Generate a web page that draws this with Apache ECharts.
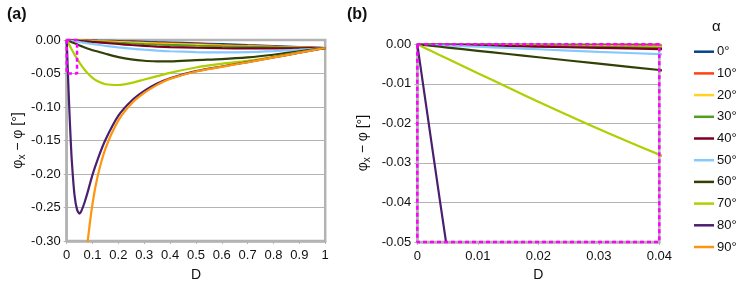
<!DOCTYPE html>
<html><head><meta charset="utf-8">
<script src="https://cdn.jsdelivr.net/npm/echarts@6/dist/echarts.min.js"></script>
<style>html,body{margin:0;padding:0;background:#fff}#c{width:747px;height:287px}</style>
</head><body><div id="c"></div>
<script>
// D grid shared by all curves
const D = [0, 0.0025, 0.005, 0.01, 0.015, 0.02, 0.03, 0.04, 0.05, 0.06, 0.07, 0.08, 0.1, 0.12, 0.15, 0.2, 0.25, 0.3, 0.35, 0.4, 0.5, 0.6, 0.7, 0.8, 0.9, 1.0];
const a0  = [0, -0.00002, -0.00004, -0.00008, -0.00012, -0.00016, -0.00024, -0.00032, -0.0004, -0.00048, -0.00056, -0.00064, -0.0008, -0.00098, -0.0012, -0.0017, -0.0022, -0.0027, -0.0032, -0.0037, -0.005, -0.0063, -0.0077, -0.009, -0.0105, -0.012];
const a10 = [0, -0.00003, -0.00006, -0.00012, -0.00018, -0.00024, -0.00036, -0.00048, -0.0006, -0.00072, -0.00084, -0.00096, -0.0012, -0.00145, -0.0018, -0.0025, -0.0031, -0.0038, -0.0044, -0.005, -0.0063, -0.0076, -0.0088, -0.0099, -0.011, -0.012];
const a20 = [0, -0.00004, -0.00008, -0.00016, -0.00024, -0.00032, -0.00048, -0.00064, -0.0008, -0.00096, -0.00112, -0.00128, -0.0016, -0.0019, -0.0024, -0.0032, -0.004, -0.0047, -0.0054, -0.006, -0.0073, -0.0085, -0.0095, -0.0104, -0.0112, -0.012];
const a30 = [0, -0.000055, -0.00011, -0.00022, -0.00033, -0.00044, -0.00066, -0.00088, -0.0011, -0.0013, -0.0015, -0.0017, -0.0022, -0.0026, -0.0032, -0.0043, -0.0052, -0.006, -0.0067, -0.0074, -0.0086, -0.0096, -0.0104, -0.011, -0.0116, -0.012];
const a40 = [0, -0.000075, -0.00015, -0.0003, -0.00045, -0.0006, -0.0009, -0.0012, -0.0015, -0.0018, -0.0021, -0.0024, -0.003, -0.0036, -0.0045, -0.006, -0.0075, -0.0088, -0.0098, -0.0106, -0.0116, -0.0122, -0.0125, -0.0125, -0.0123, -0.012];
const a50 = [0, -0.00016, -0.00031, -0.00062, -0.00094, -0.00125, -0.0019, -0.0025, -0.0031, -0.0037, -0.0043, -0.0049, -0.006, -0.0071, -0.0087, -0.011, -0.013, -0.0145, -0.0158, -0.0168, -0.018, -0.0185, -0.018, -0.0165, -0.0145, -0.012];
const a60 = [0, -0.00041, -0.00082, -0.00164, -0.00246, -0.00328, -0.0049, -0.0065, -0.0081, -0.0096, -0.0111, -0.0126, -0.0152, -0.0172, -0.0205, -0.0255, -0.029, -0.031, -0.0318, -0.032, -0.030, -0.0285, -0.026, -0.022, -0.017, -0.012];
const a70 = [0, -0.00183, -0.00365, -0.0073, -0.0109, -0.0145, -0.0214, -0.0279, -0.0341, -0.0397, -0.0448, -0.0493, -0.0566, -0.0617, -0.066, -0.0672, -0.064, -0.059, -0.054, -0.049, -0.041, -0.0355, -0.031, -0.025, -0.0185, -0.012];
const a80 = [0, -0.0265, -0.0526, -0.102, -0.1456, -0.1818, -0.2308, -0.2532, -0.259, -0.2521, -0.2414, -0.2286, -0.201, -0.178, -0.149, -0.113, -0.091, -0.076, -0.065, -0.057, -0.0465, -0.0395, -0.033, -0.026, -0.019, -0.012];
const a90 = [null, null, null, null, null, null, null, null, null, null, -0.349, -0.305, -0.244, -0.203, -0.162, -0.120, -0.095, -0.079, -0.067, -0.058, -0.047, -0.040, -0.0332, -0.026, -0.019, -0.012];

const seriesNames = ['0°', '10°', '20°', '30°', '40°', '50°', '60°', '70°', '80°', '90°'];
const seriesValues = [a0, a10, a20, a30, a40, a50, a60, a70, a80, a90];
const colors = ['#004586', '#ff420e', '#ffd320', '#579d1c', '#7e0021', '#83caff', '#314004', '#aecf00', '#4b1f6f', '#ff950e'];

const xTicksA = ['0', '0.1', '0.2', '0.3', '0.4', '0.5', '0.6', '0.7', '0.8', '0.9', '1'];
const xTicksB = ['0', '0.01', '0.02', '0.03', '0.04'];
const yTicksA = ['0.00', '-0.05', '-0.10', '-0.15', '-0.20', '-0.25', '-0.30'];
const yTicksB = ['0.00', '-0.01', '-0.02', '-0.03', '-0.04', '-0.05'];

// zoom window outline (data coordinates)
const boxD = [0, 0.04, 0.04, 0, 0];
const boxV = [0, 0, -0.05, -0.05, 0];

const FONT = "'Liberation Sans', Arial, sans-serif";
const GRAY = '#b3b3b3';
const TXT = '#111';

function xAxis(gi, max, interval, ticks, gap) {
  return {
    type: 'value', gridIndex: gi, min: 0, max: max, interval: interval,
    name: 'D', nameLocation: 'middle', nameGap: gap,
    nameTextStyle: { fontFamily: FONT, fontSize: 14, color: TXT },
    axisLine: { show: true, onZero: false, lineStyle: { color: GRAY, width: 2.5 } },
    axisTick: { show: true, length: 3, lineStyle: { color: GRAY } },
    splitLine: { show: false },
    axisLabel: { fontFamily: FONT, fontSize: 13, color: TXT, margin: 8,
      formatter: v => ticks[Math.round(v / interval)] }
  };
}
function yAxis(gi, min, interval, ticks, gap) {
  return {
    type: 'value', gridIndex: gi, min: min, max: 0, interval: interval,
    name: '{p|φ}{s|x}{p| − φ [°]}', nameLocation: 'middle', nameGap: gap, nameRotate: 90,
    nameTextStyle: { fontFamily: FONT, fontSize: 14, color: TXT,
      rich: { p: { fontFamily: FONT, fontSize: 14, color: TXT },
              s: { fontFamily: FONT, fontSize: 10, color: TXT, padding: [9, 0, 0, 0] } } },
    axisLine: { show: true, onZero: false, lineStyle: { color: GRAY, width: 2.5 } },
    axisTick: { show: true, length: 3, lineStyle: { color: GRAY } },
    splitLine: { show: true, lineStyle: { color: GRAY, width: 1 } },
    axisLabel: { fontFamily: FONT, fontSize: 13, color: TXT, margin: 6,
      formatter: v => ticks[Math.round(-v / interval)] }
  };
}

const series = [];
[0, 1].forEach(gi => {
  seriesValues.forEach((vals, i) => {
    const pts = [];
    D.forEach((d, j) => { if (vals[j] !== null) pts.push([d, vals[j]]); });
    series.push({
      type: 'line', name: seriesNames[i], xAxisIndex: gi, yAxisIndex: gi,
      data: pts, smooth: 0.3, symbol: 'none', clip: true,
      lineStyle: { color: colors[i], width: 2.2 }, itemStyle: { color: colors[i] },
      emphasis: { disabled: true }, silent: true
    });
  });
  series.push({
    type: 'line', name: 'box', xAxisIndex: gi, yAxisIndex: gi,
    data: boxD.map((d, j) => [d, boxV[j]]), symbol: 'none', clip: false,
    lineStyle: { color: '#ff00ff', width: 2.5, type: [4, 3] }, silent: true, z: 5
  });
});

const chart = echarts.init(document.getElementById('c'), null, { renderer: 'canvas' });
chart.setOption({
  animation: false,
  textStyle: { fontFamily: FONT },
  grid: [
    { left: 66.7, top: 40, width: 258.5, height: 208.3, show: true, borderColor: GRAY, borderWidth: 2.5 },
    { left: 417.3, top: 44.3, width: 242, height: 205, show: true, borderColor: GRAY, borderWidth: 2.5 }
  ],
  xAxis: [xAxis(0, 1, 0.1, xTicksA, 27), xAxis(1, 0.04, 0.01, xTicksB, 26)],
  yAxis: [yAxis(0, -0.30, 0.05, yTicksA, 38), yAxis(1, -0.05, 0.01, yTicksB, 45)],
  legend: {
    data: seriesNames, orient: 'vertical', left: 689, top: 40.2,
    icon: 'rect', itemWidth: 20, itemHeight: 2.5, itemGap: 8.7,
    textStyle: { fontFamily: FONT, fontSize: 13, color: TXT, padding: [0, 0, 0, -2] },
    selectedMode: false
  },
  graphic: [
    { type: 'text', left: 7, top: 7, style: { text: '(a)', font: "bold 16px 'Liberation Sans', Arial, sans-serif", fill: '#111' } },
    { type: 'text', left: 347, top: 7, style: { text: '(b)', font: "bold 16px 'Liberation Sans', Arial, sans-serif", fill: '#111' } },
    { type: 'text', left: 712, top: 19, style: { text: 'α', font: "15px 'Liberation Sans', Arial, sans-serif", fill: '#111' } }
  ],
  series: series
});
</script></body></html>
